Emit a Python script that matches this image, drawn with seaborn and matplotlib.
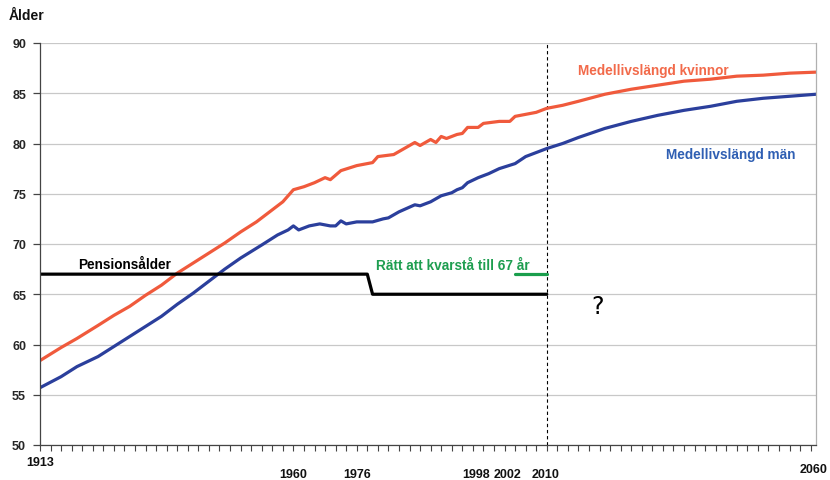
import numpy as np
import pandas as pd
import matplotlib
matplotlib.use("Agg")
import matplotlib.pyplot as plt
import matplotlib.transforms as mtransforms
from matplotlib import font_manager
import seaborn as sns

# Medellivslängd kvinnor (år, ålder)
years_women = [1913, 1917, 1920, 1924, 1927, 1930, 1933, 1936, 1939, 1942, 1945,
               1948, 1951, 1954, 1956, 1958, 1959, 1960, 1961, 1963, 1965, 1967,
               1968, 1970, 1973, 1976, 1977, 1980, 1983, 1984, 1985, 1987, 1988,
               1989, 1990, 1992, 1993, 1994, 1996, 1997, 2000, 2002, 2003, 2007,
               2009, 2012, 2015, 2020, 2025, 2030, 2035, 2040, 2045, 2050, 2055, 2060]
life_women = [58.4, 59.7, 60.6, 61.9, 62.9, 63.8, 64.9, 65.9, 67.1, 68.1, 69.1,
              70.1, 71.2, 72.2, 73.0, 73.8, 74.2, 74.8, 75.4, 75.7, 76.1, 76.6,
              76.4, 77.3, 77.8, 78.1, 78.7, 78.9, 79.8, 80.1, 79.8, 80.4, 80.1,
              80.7, 80.5, 80.9, 81.0, 81.6, 81.6, 82.0, 82.2, 82.2, 82.7, 83.1,
              83.5, 83.8, 84.2, 84.9, 85.4, 85.8, 86.2, 86.4, 86.7, 86.8, 87.0, 87.1]

# Medellivslängd män (år, ålder)
years_men = [1913, 1917, 1920, 1924, 1927, 1930, 1933, 1936, 1939, 1942, 1945,
             1948, 1951, 1955, 1958, 1960, 1961, 1962, 1964, 1966, 1968, 1969,
             1970, 1971, 1973, 1976, 1978, 1979, 1981, 1984, 1985, 1987, 1989,
             1991, 1992, 1993, 1994, 1996, 1998, 2000, 2003, 2005, 2009, 2012,
             2015, 2020, 2025, 2030, 2035, 2040, 2045, 2050, 2055, 2060]
life_men = [55.7, 56.8, 57.8, 58.8, 59.8, 60.8, 61.8, 62.8, 64.0, 65.1, 66.3,
            67.5, 68.6, 69.9, 70.9, 71.4, 71.8, 71.4, 71.8, 72.0, 71.8, 71.8,
            72.3, 72.0, 72.2, 72.2, 72.5, 72.6, 73.2, 73.9, 73.8, 74.2, 74.8,
            75.1, 75.4, 75.6, 76.1, 76.6, 77.0, 77.5, 78.0, 78.7, 79.5, 80.0,
            80.6, 81.5, 82.2, 82.8, 83.3, 83.7, 84.2, 84.5, 84.7, 84.9]

# Pensionsålder
years_pension = [1913, 1975, 1976, 2009]
age_pension = [67, 67, 65, 65]

# Rätt att kvarstå till 67 år
years_stay = [2003, 2009]
age_stay = [67, 67]

year_now = 2009
xtick_years = [1913, 1960, 1976, 1998, 2002, 2010, 2060]

sns.set_theme(style="white")
installed = {f.name for f in font_manager.fontManager.ttflist}
narrow = "Liberation Sans Narrow" if "Liberation Sans Narrow" in installed else "Liberation Sans"
plt.rcParams["font.family"] = [narrow, "DejaVu Sans"]

fig = plt.figure(figsize=(8.3, 4.81), dpi=100)
ax = fig.add_axes([40 / 830, 1 - 446 / 481, 776 / 830, 402 / 481])

women_df = pd.DataFrame({"år": years_women, "ålder": life_women})
men_df = pd.DataFrame({"år": years_men, "ålder": life_men})

ax.yaxis.grid(True, color="#c8c8c8", lw=0.9)
ax.set_axisbelow(True)

sns.lineplot(data=women_df, x="år", y="ålder", color="#f05a3c", lw=2.3, ax=ax)
sns.lineplot(data=men_df, x="år", y="ålder", color="#2b3f9c", lw=2.3, ax=ax)
sns.lineplot(x=years_pension, y=age_pension, color="black", lw=2.3, ax=ax)
sns.lineplot(x=years_stay, y=age_stay, color="#1a9e4c", lw=2.3, ax=ax)
ax.axvline(year_now, color="black", lw=0.8, ls=(0, (3, 2.5)), zorder=1)

ax.set_xlim(1913, 2060)
ax.set_ylim(50, 90)
ax.set_xlabel("")
ax.set_ylabel("")

ax.set_yticks(np.arange(50, 91, 5))
ax.tick_params(axis="y", which="major", direction="out", length=5, width=0.9,
               color="#444444", left=True, pad=5, labelsize=9)
for lab in ax.get_yticklabels():
    lab.set_fontweight("bold")

ax.set_xticks([])
ax.set_xticks(np.arange(1913, 2061, 2), minor=True)
ax.tick_params(axis="x", which="minor", direction="out", length=4, width=0.8,
               color="#444444", bottom=True)

for side in ["left", "bottom"]:
    ax.spines[side].set_color("#444444")
    ax.spines[side].set_linewidth(0.9)
ax.spines["right"].set_color("#b0b0b0")
ax.spines["right"].set_linewidth(0.9)
ax.spines["top"].set_visible(False)

# årtal under axeln, placerade som i förlagan
xlab_offsets = {1913: (0, -12), 1960: (3.6, -21), 1976: (-10.8, -21), 1998: (-9.4, -21),
                2002: (-1.4, -21), 2010: (-1, -21), 2060: (-1.5, -17)}
trans = mtransforms.blended_transform_factory(ax.transData, ax.transAxes)
for yr in xtick_years:
    pos = year_now if yr == 2010 else yr
    ax.annotate(str(yr), xy=(pos, 0), xycoords=trans, xytext=xlab_offsets[yr],
                textcoords="offset points", ha="center", va="center",
                fontsize=9, fontweight="bold", color="#111111")

fig.text(9 / 830, 1 - 16 / 481, "Ålder", fontsize=10, fontweight="bold",
         ha="left", va="center", color="#111111")

ax.text(1920.2, 68.0, "Pensionsålder", fontsize=9.8, fontweight="bold",
        color="black", ha="left", va="center")
ax.text(1976.6, 67.9, "Rätt att kvarstå till 67 år", fontsize=9.8, fontweight="bold",
        color="#1e9e50", ha="left", va="center")
ax.text(2014.9, 87.3, "Medellivslängd kvinnor", fontsize=9.8, fontweight="bold",
        color="#f26a4a", ha="left", va="center")
ax.text(2031.6, 79.0, "Medellivslängd män", fontsize=9.8, fontweight="bold",
        color="#2f5fb3", ha="left", va="center")
ax.text(2018.7, 63.8, "?", fontsize=17, color="black", ha="center", va="center",
        family=["DejaVu Sans"])

fig.savefig("out.png", dpi=100)
